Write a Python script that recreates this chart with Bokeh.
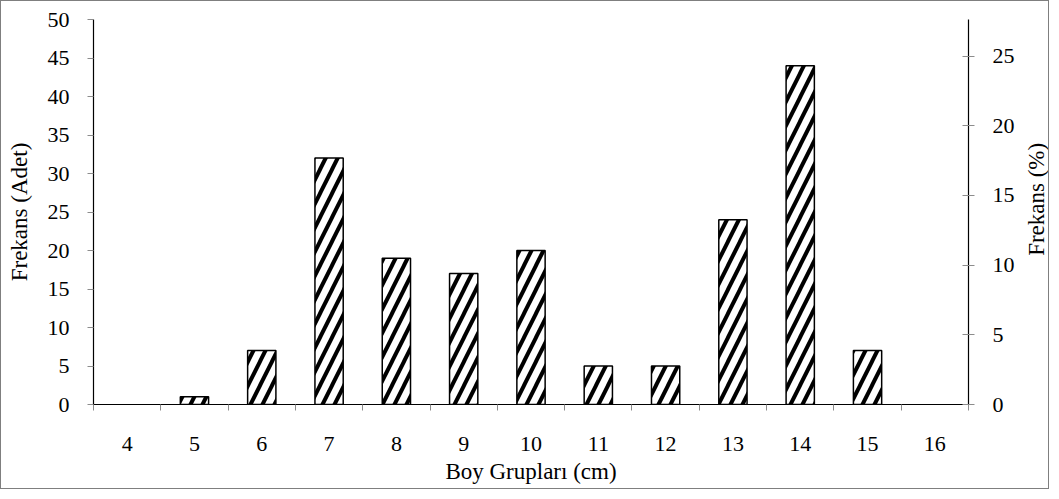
import math
from bokeh.plotting import figure
from bokeh.layouts import row
from bokeh.models import Range1d, LinearAxis, FixedTicker
from bokeh.core.properties import value
from bokeh.embed import file_html
from bokeh.resources import INLINE

groups = [4, 5, 6, 7, 8, 9, 10, 11, 12, 13, 14, 15, 16]
counts = [0, 1, 7, 32, 19, 17, 20, 5, 5, 24, 44, 7, 0]
left_ticks = [0, 5, 10, 15, 20, 25, 30, 35, 40, 45, 50]
right_ticks = [0, 5, 10, 15, 20, 25]

total = sum(counts)
FONT = "Liberation Serif"
TICK_GREY = "#8c8c8c"
FW, FH = 875, 385
BL, BR, BT, BB = 92, 50, 18, 84
H = FH + BT + BB
YMAX = 50

p = figure(frame_width=FW, frame_height=FH, output_backend="svg", toolbar_location=None,
           x_range=Range1d(3.5, 16.5), y_range=Range1d(0, YMAX),
           min_border_left=BL, min_border_right=BR, min_border_top=BT, min_border_bottom=BB)
p.outline_line_color = None
p.xgrid.visible = False
p.ygrid.visible = False

xs = [g for g, c in zip(groups, counts) if c > 0]
ys = [c for c in counts if c > 0]
p.vbar(x=xs, top=ys, width=0.42, fill_color="white", line_color="black", line_width=1.5,
       hatch_pattern="/", hatch_color="black", hatch_weight=4, hatch_scale=24)

# x axis
xa = p.xaxis[0]
xa.ticker = FixedTicker(ticks=groups, minor_ticks=[g - 0.5 for g in groups] + [groups[-1] + 0.5])
xa.major_tick_line_color = None
xa.minor_tick_out = 6
xa.minor_tick_in = 0
xa.minor_tick_line_color = TICK_GREY
xa.major_label_standoff = 26
xa.axis_label = "Boy Grupları (cm)"
xa.axis_label_standoff = 5

# left axis
ya = p.yaxis[0]
ya.ticker = FixedTicker(ticks=left_ticks)
ya.minor_tick_line_color = None
ya.major_tick_out = 6
ya.major_tick_in = 0
ya.major_tick_line_color = TICK_GREY
ya.major_label_standoff = 18
ya.axis_label = "Frekans (Adet)"
ya.axis_label_standoff = 13

# right axis (percent)
p.extra_y_ranges = {"pct": Range1d(0, YMAX * 100.0 / total)}
ra = LinearAxis(y_range_name="pct", ticker=FixedTicker(ticks=right_ticks))
ra.minor_tick_line_color = None
ra.major_tick_out = 6
ra.major_tick_in = 6
ra.major_tick_line_color = TICK_GREY
ra.major_label_standoff = 18
p.add_layout(ra, "right")

for ax in [xa, ya, ra]:
    ax.axis_line_color = "black"
    ax.axis_line_width = 1.2
    ax.major_label_text_font = FONT
    ax.major_label_text_font_size = "22px"
    ax.major_label_text_color = "black"
    ax.axis_label_text_font = FONT
    ax.axis_label_text_font_size = "23px"
    ax.axis_label_text_font_style = "normal"
    ax.axis_label_text_color = "black"

# narrow strip holding the right axis title, reading bottom-to-top
p2 = figure(width=30, height=H, output_backend="svg", toolbar_location=None,
            x_range=Range1d(0, 30), y_range=Range1d(0, H),
            x_axis_type=None, y_axis_type=None, min_border=0)
p2.outline_line_color = None
p2.grid.visible = False
p2.text(x=[18], y=[H - BT - FH / 2 - 17], text=["Frekans (%)"], angle=math.pi / 2,
        text_align="center", text_baseline="middle", text_font=value(FONT),
        text_font_size="23px", text_color="black")

layout = row(p, p2, spacing=0)
layout.styles = {"border": "1.5px solid #7f7f7f"}

open("out.html", "w").write(file_html(layout, INLINE))
